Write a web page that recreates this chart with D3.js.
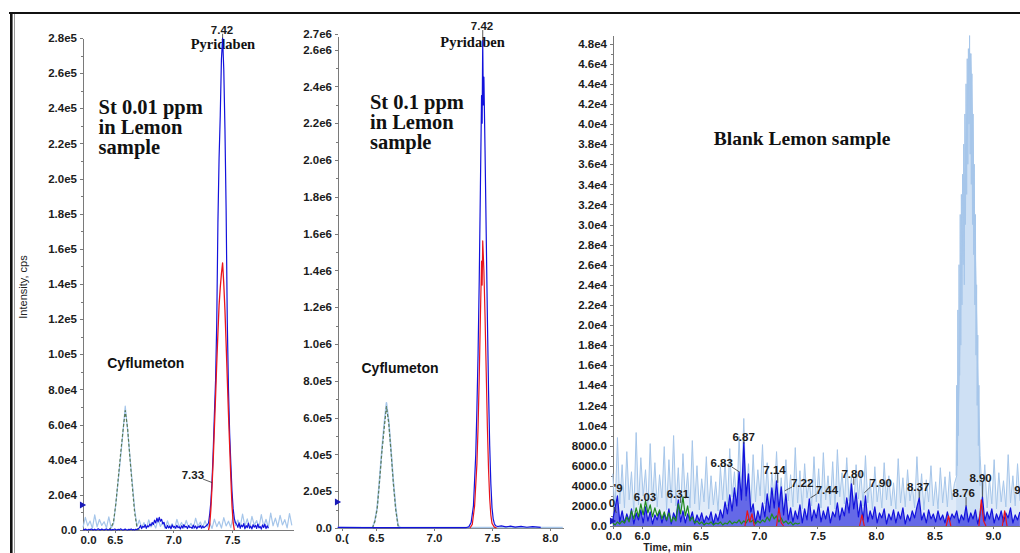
<!DOCTYPE html>
<html>
<head>
<meta charset="utf-8">
<script src="https://cdn.jsdelivr.net/npm/d3@7"></script>
<style>
  body { margin: 0; background: #fff; }
  svg { display: block; }
  .axis path, .axis line, .minor path, .minor line { stroke: #7a7a7a; shape-rendering: crispEdges; }
  .axis text { font-family: "Liberation Sans", Arial, sans-serif; font-weight: bold; font-size: 11.5px; fill: #1c1c1c; }
  .peak { font-family: "Liberation Sans", Arial, sans-serif; font-weight: bold; font-size: 11.5px; fill: #1c1c1c; }
  .name { font-family: "Liberation Sans", Arial, sans-serif; font-weight: bold; font-size: 13.5px; fill: #111; }
  .serif { font-family: "Liberation Serif", "Times New Roman", serif; font-weight: bold; fill: #111; }
  .trace { fill: none; stroke-linejoin: round; }
</style>
</head>
<body>
<svg class="chart"></svg>
<script>
// values (time in min, intensity in cps)

// ---- panel 1 : St 0.01 ppm ----
var p1YTicks = [0, 20000, 40000, 60000, 80000, 100000, 120000, 140000, 160000, 180000, 200000, 220000, 240000, 260000, 280000];
var p1XTicks = [6.273, 6.5, 7.0, 7.5];
var p1XLabels = ["0.0", "6.5", "7.0", "7.5"];
// cyflumeton quantifier (light blue), sampled every 0.02 min from 6.23
var p1LightT0 = 6.23;
var p1Light = [1500,7200,2400,5100,900,8600,1800,6000,2600,4700,
  1200,7500,1200,3500,15000,28000,41000,55000,70500,57000,
  42000,27000,12000,2000,5600,1300,4200,800,5800,1700,
  3900,1100,6400,2000,4500,900,5200,1400,3600,700,
  6100,1800,4300,1000,5500,1500,3800,800,6700,2100,
  4600,1200,5300,1700,4000,900,6200,1900,4800,1100,
  7000,2300,5000,1400,8200,2500,5700,1600,9100,2200,
  6300,1000,7800,2700,5400,1500,8800,2000,6100,1300,
  9600,2400,6800,1800,8300,2900,5900,1200,9400,2600];
// cyflumeton qualifier (grey green, dashed), every 0.02 min from 6.45
var p1GreenT0 = 6.45;
var p1Green = [0,1500,4500,15000,29000,43000,56000,68000,58000,41000,25000,10000,1500,0];
// pyridaben quantifier (dark blue), every 0.01 min from 6.23
var p1BlueT0 = 6.23;
var p1Blue = [300,100,500,200,0,400,150,600,200,100,450,0,300,700,200,100,500,250,0,350,
  600,100,200,450,0,300,150,550,200,0,400,100,650,300,0,200,500,150,0,350,
  200,600,100,300,0,450,200,700,
  1200,2600,800,2100,1500,3000,1000,2400,1800,3400,
  2500,4300,3200,5600,4000,6800,4600,7200,5000,6100,3500,4400,
  1800,900,2600,1200,2200,700,2900,1500,2000,1000,2700,1300,1900,600,2400,1100,3000,1600,2100,800,
  2500,1400,1700,900,2800,1200,2300,700,2000,1500,2600,1000,2200,1300,1800,2400,3000,
  4000,9000,16000,28000,45000,66000,85000,118000,175000,212000,236000,268000,280000,262000,228000,182000,118000,80000,55000,38000,22000,12000,6500,4000,
  3200,1500,4100,900,2800,1800,3600,700,2500,1300,3900,1100,2200,600,3000,1600,2700,900,3400,1200,2000,500,2900,1400,3300,800,2400,1000];
// pyridaben qualifier (red), every 0.01 min from 7.30
var p1RedT0 = 7.30;
var p1Red = [0,3000,12000,25000,40000,58000,76000,95000,112000,128000,138000,146000,152000,140000,125000,106000,86000,66000,48000,30000,14000,4000,0];
var p1PeakText = ["7.42", "7.33"];
var p1PeakLabelT = [7.415, 7.167];
var p1PeakLabelV = [284700, 31250];
var p1PeakApexT = [7.42, 7.33];
var p1PeakApexV = [280000, 27000];
var p1Marker = 14200;

// ---- panel 2 : St 0.1 ppm ----
var p2YTicks = [0, 200000, 400000, 600000, 800000, 1000000, 1200000, 1400000, 1600000, 1800000, 2000000, 2200000, 2400000, 2600000, 2685000];
var p2XTicks = [6.203, 6.5, 7.0, 7.5, 8.0];
var p2XLabels = ["0.(", "6.5", "7.0", "7.5", "8.0"];
var p2LightT = [6.17,6.40,6.47,6.49,6.51,6.53,6.55,6.57,6.59,6.61,6.63,6.65,6.67,6.69,6.71,6.90,7.40,8.11];
var p2Light = [2500,2500,3000,40000,110000,260000,420000,560000,680000,580000,420000,250000,110000,15000,2500,2500,2500,2500];
var p2GreenT = [6.47,6.49,6.51,6.53,6.55,6.57,6.59,6.61,6.63,6.65,6.67,6.69,6.71];
var p2Green = [0,35000,105000,250000,410000,540000,660000,570000,410000,240000,100000,12000,0];
var p2BlueT = [6.17,6.40,6.70,7.00,7.28,7.30,7.32,7.34,7.36,7.37,7.38,7.39,7.40,7.41,7.415,7.42,7.425,7.43,7.44,7.45,
  7.46,7.47,7.48,7.49,7.50,7.51,7.52,7.53,7.55,7.58,7.62,7.66,7.70,7.75,7.80,7.85,7.92];
var p2Blue = [3000,2000,2500,2000,2500,6000,30000,120000,400000,650000,950000,1350000,1850000,2350000,2200000,2650000,2300000,2450000,2050000,1600000,
  1150000,750000,450000,240000,110000,50000,25000,12000,8000,12000,6000,10000,5000,9000,4000,7000,3000];
var p2RedT = [7.31,7.33,7.35,7.37,7.38,7.39,7.40,7.41,7.415,7.42,7.43,7.44,7.45,7.46,7.47,7.48,7.49,7.50,7.52,7.54];
var p2Red = [0,20000,120000,350000,550000,820000,1150000,1450000,1320000,1560000,1400000,1150000,850000,550000,320000,160000,70000,25000,5000,0];
var p2PeakText = ["7.42"];
var p2PeakLabelT = [7.414];
var p2PeakLabelV = [2728000];
var p2PeakApexT = [7.42];
var p2PeakApexV = [2650000];
var p2Marker = 141000;

// ---- panel 3 : blank lemon ----
var p3YTicks = [0,2000,4000,6000,8000,10000,12000,14000,16000,18000,20000,22000,24000,26000,28000,30000,32000,34000,36000,38000,40000,42000,44000,46000,48000];
var p3XTicks = [5.755, 6.0, 6.5, 7.0, 7.5, 8.0, 8.5, 9.0];
var p3XLabels = ["0.0", "6.0", "6.5", "7.0", "7.5", "8.0", "8.5", "9.0"];
// every 0.02 min from 5.75
var p3T0 = 5.75;
var p3Light = [5200,1500,8800,2200,6100,1800,7400,2600,5400,1400,
  9300,2100,6800,3000,5600,1700,8200,2400,6300,1900,
  5100,2800,7900,1600,6600,2300,9000,2000,5800,1500,
  7200,2700,5300,1800,8500,2200,6000,1600,4700,2400,
  6900,1700,5000,2100,4400,1500,5900,2600,6500,2000,
  7700,2900,5400,2300,8900,3100,10700,2500,6200,1800,
  7100,2400,5600,3000,8100,2200,6300,1900,5200,2700,
  7400,2100,4800,1600,6600,2500,5100,1900,7800,2300,
  5500,1700,6200,2800,4600,2000,6900,2400,5700,1800,
  7300,2600,5000,2100,6400,1700,7600,2900,5300,2200,
  6800,2500,4900,1900,6100,2700,5400,2000,7000,2300,
  4700,1600,5900,2400,4400,1800,6300,2600,5000,2000,
  4300,1700,6700,2300,4800,1900,5600,2500,4100,1800,
  6900,2200,5200,1600,4600,2400,6000,2000,4400,1700,
  5800,2300,4900,1900,5400,2600,4200,5000,14000,26000,
  31000,38000,45000,47000,38000,27000,15000,7000,2500,6100,
  1800,4700,2200,6600,1700,5300,2400,4500,1900,7100,
  2300,5000,2000,6200,2500];
// the 8.8 min interference, every 0.005 min from 8.685
var p3PeakT0 = 8.685;
var p3Peak = [5000,14000,6000,21500,9000,26000,15000,31000,18000,33000,22000,35000,26000,38000,24000,41000,30000,44000,33000,46500,
  36000,47500,40000,48800,37000,47000,34000,45000,30000,41000,27000,36000,22000,31000,17000,24000,12000,19000,8000,14000,5000,4000];
var p3Blue = [600,1800,3000,400,1500,300,1200,500,1700,200,
  1300,600,1600,300,1900,500,1400,200,1100,600,
  1500,300,1200,500,1700,200,1300,700,2600,400,
  1500,300,1200,600,1400,200,1100,500,1300,300,
  1000,600,1400,200,1200,500,1600,800,2400,1200,
  3100,1500,3800,2000,5400,2600,8300,3000,5200,1400,
  2200,300,1500,600,2300,900,3200,1400,3800,1800,
  4500,1600,3900,1100,3200,600,1800,400,1500,700,
  2100,300,1700,600,2700,500,1600,800,2200,400,
  1500,700,1900,300,1400,900,2300,600,1800,1000,
  2800,1300,4200,1700,3300,900,2500,600,3000,400,
  1500,700,1900,300,1300,800,1700,200,1200,600,
  1600,300,1400,700,1800,200,1100,500,1500,800,
  1900,2800,600,1300,300,1600,700,1200,400,1500,
  600,1100,300,1400,500,1200,800,1500,300,1100,
  600,2000,400,1300,700,1600,200,1200,2900,500,
  1400,700,1700,300,1200,600,1500,400,1300,800,
  1800,300,1100,600,1400];
var p3Green = [300,100,400,200,500,300,900,400,1500,700,
  1800,900,2200,1100,2500,1300,2100,900,1800,1000,
  1600,700,1400,600,1300,400,900,500,2200,1200,
  2900,1000,2000,500,900,300,500,200,400,100,
  300,200,400,100,300,200,400,100,300,200,
  500,200,400,300,600,200,500,300,700,400,
  600,200,500,300,600,400,900,500,1200,700,
  1000,400,800,300,500,200,400,100,300,200,
  300];
var p3RedT = [6.88,6.90,6.92,6.94,6.96,6.97,7.15,7.17,7.19,7.21,7.22,7.86,7.88,7.90,7.91,8.60,8.62,8.64,8.65,8.88,8.90,8.92,8.94,8.95,9.08,9.10,9.12];
var p3Red = [0,1500,400,1200,0,null,0,1800,300,0,null,0,1100,0,null,0,1000,0,null,0,2600,500,0,null,0,1500,0];
var p3PeakText = ["'9","0","6.03","6.31","6.83","6.87","7.14","7.22","7.44","7.80","7.90","8.37","8.76","8.90","9"];
var p3PeakLabelT = [5.796,5.744,6.026,6.307,6.681,6.869,7.133,7.369,7.58,7.80,8.04,8.36,8.75,8.894,9.21];
var p3PeakLabelV = [3780,2290,2890,3180,6270,8860,5570,4280,3580,5170,4280,3880,3280,4780,3580];
var p3PeakApexT = [null,5.78,null,6.33,6.83,6.87,7.16,7.22,7.44,7.81,7.90,8.37,8.77,8.91,null];
var p3PeakApexV = [null,1300,null,2300,5400,8200,4300,3500,2800,4100,3300,2800,2000,2900,null];
var p3Marker = 500;

var width = 1020;
var height = 553;
var svg = d3.select(".chart").attr("width", width).attr("height", height);

var cLight = "#a6c6ea", cBlue = "#1212dc", cRed = "#e8141c", cGreen = "#1f8a1f", cGreenDash = "#587a58";

function fmtY(v) {
  if (v === 0) return "0.0";
  if (v < 1e4) return v.toFixed(1);
  return v.toExponential(1).replace("+", "");
}
function grid(t0, dt, vals) {
  return vals.map(function(v, i) { return {t: t0 + dt * i, v: v}; });
}
function pairs(ts, vals) {
  return ts.map(function(t, i) { return {t: t, v: vals[i]}; });
}

function makePanel(o) {
  var x = d3.scaleLinear().domain(o.xDomain).range(o.xRange);
  var y = d3.scaleLinear().domain(o.yDomain).range(o.yRange);
  var g = svg.append("g");
  var majors = o.yTicks;
  var minors = d3.range(o.yMinor, o.yDomain[1], o.yMinor * 2);
  g.append("g").attr("class", "minor")
    .attr("transform", "translate(" + o.xRange[0] + ",0)")
    .call(d3.axisLeft(y).tickValues(minors).tickSize(2).tickSizeOuter(0).tickFormat(""));
  g.append("g").attr("class", "axis")
    .attr("transform", "translate(" + o.xRange[0] + ",0)")
    .call(d3.axisLeft(y).tickValues(majors).tickSize(3).tickSizeOuter(0).tickFormat(fmtY));
  var xa = g.append("g").attr("class", "axis")
    .attr("transform", "translate(0," + o.yRange[0] + ")")
    .call(d3.axisBottom(x).tickValues(o.xTicks).tickSize(3).tickSizeOuter(0)
      .tickFormat(function(d, i) { return o.xLabels[i]; }));
  xa.select(".domain").attr("stroke", "#4a4a4a");
  return {x: x, y: y, g: g, x0: o.xRange[0]};
}

function trace(pn, pts, color, w, dash) {
  var line = d3.line()
    .defined(function(d) { return d.v != null; })
    .x(function(d) { return pn.x(d.t); })
    .y(function(d) { return pn.y(d.v); });
  pn.g.append("path").datum(pts).attr("class", "trace").attr("d", line)
    .attr("stroke", color).attr("stroke-width", w)
    .attr("stroke-dasharray", dash || null);
}

// dense noise looks filled in the instrument plot
function shade(pn, pts, color, op) {
  var area = d3.area()
    .x(function(d) { return pn.x(d.t); })
    .y0(pn.y(0))
    .y1(function(d) { return pn.y(d.v); });
  pn.g.append("path").datum(pts).attr("d", area)
    .attr("fill", color).attr("fill-opacity", op).attr("stroke", "none");
}

function peakLabels(pn, texts, lt, lv, at, av) {
  texts.forEach(function(s, i) {
    var tx = pn.g.append("text").attr("class", "peak")
      .attr("x", pn.x(lt[i])).attr("y", pn.y(lv[i])).attr("dy", "0.35em")
      .attr("text-anchor", "middle").text(s);
    if (at[i] == null) return;
    var b = tx.node().getBBox();
    var ax = pn.x(at[i]), ay = pn.y(av[i]);
    var sx = Math.max(b.x + 1, Math.min(ax, b.x + b.width - 1));
    var sy = Math.max(b.y + 3, Math.min(ay, b.y + b.height - 2));
    pn.g.append("line").attr("x1", sx).attr("y1", sy).attr("x2", ax).attr("y2", ay)
      .attr("stroke", "#333").attr("stroke-width", 0.8);
  });
}

function textBlock(pn, lines, t, v, cls, size, anchor, lh) {
  lines.forEach(function(s, i) {
    pn.g.append("text").attr("class", cls).style("font-size", size + "px")
      .attr("x", pn.x(t)).attr("y", pn.y(v) + i * lh).attr("dy", "0.35em")
      .attr("text-anchor", anchor).text(s);
  });
}

function marker(pn, v) {
  pn.g.append("path").attr("d", d3.symbol().type(d3.symbolTriangle).size(22)())
    .attr("transform", "translate(" + (pn.x0 - 1) + "," + pn.y(v) + ") rotate(90)")
    .attr("fill", "#1a1ab8");
}

// ---- panel 1 ----
var P1 = makePanel({xDomain: [6.23, 8.02], xRange: [83, 293], yDomain: [0, 280000], yRange: [530, 38],
  yTicks: p1YTicks, yMinor: 10000, xTicks: p1XTicks, xLabels: p1XLabels});
textBlock(P1, ["Pyridaben"], 7.423, 276700, "serif", 14.5, "middle", 0);
textBlock(P1, ["Cyflumeton"], 6.765, 94900, "name", 14, "middle", 0);
textBlock(P1, ["St 0.01 ppm", "in Lemon", "sample"], 6.363, 240900, "serif", 20.5, "start", 20);
trace(P1, grid(p1LightT0, 0.02, p1Light), cLight, 1.2);
trace(P1, grid(p1GreenT0, 0.02, p1Green), cGreenDash, 1.2, "3,2");
trace(P1, grid(p1BlueT0, 0.01, p1Blue), cBlue, 1.2);
trace(P1, grid(p1RedT0, 0.01, p1Red), cRed, 1.3);
peakLabels(P1, p1PeakText, p1PeakLabelT, p1PeakLabelV, p1PeakApexT, p1PeakApexV);
marker(P1, p1Marker);

// ---- panel 2 ----
var P2 = makePanel({xDomain: [6.1724, 8.112], xRange: [338, 563], yDomain: [0, 2670000], yRange: [528, 36.7],
  yTicks: p2YTicks, yMinor: 100000, xTicks: p2XTicks, xLabels: p2XLabels});
textBlock(P2, ["Pyridaben"], 7.332, 2641000, "serif", 14.5, "middle", 0);
textBlock(P2, ["Cyflumeton"], 6.707, 869600, "name", 14, "middle", 0);
textBlock(P2, ["St 0.1 ppm", "in Lemon", "sample"], 6.448, 2315000, "serif", 20.5, "start", 20);
trace(P2, pairs(p2LightT, p2Light), cLight, 1.6);
trace(P2, pairs(p2GreenT, p2Green), cGreenDash, 1.2, "3,2");
trace(P2, pairs(p2BlueT, p2Blue), cBlue, 1.2);
trace(P2, pairs(p2RedT, p2Red), cRed, 1.2);
peakLabels(P2, p2PeakText, p2PeakLabelT, p2PeakLabelV, p2PeakApexT, p2PeakApexV);
marker(P2, p2Marker);

// ---- panel 3 ----
var P3 = makePanel({xDomain: [5.752, 9.231], xRange: [613, 1020], yDomain: [0, 48860], yRange: [526, 35],
  yTicks: p3YTicks, yMinor: 1000, xTicks: p3XTicks, xLabels: p3XLabels});
textBlock(P3, ["Blank Lemon sample"], 7.368, 38600, "serif", 19.5, "middle", 0);
var p3LightPts = grid(p3T0, 0.02, p3Light);
var p3PeakPts = grid(p3PeakT0, 0.005, p3Peak);
var p3BluePts = grid(p3T0, 0.02, p3Blue);
shade(P3, p3LightPts, cLight, 0.35);
shade(P3, p3PeakPts, cLight, 0.3);
trace(P3, p3LightPts, cLight, 1);
trace(P3, p3PeakPts, cLight, 1);
shade(P3, p3BluePts, cBlue, 0.6);
trace(P3, p3BluePts, cBlue, 1.2);
trace(P3, grid(p3T0, 0.02, p3Green), cGreen, 1.2);
trace(P3, pairs(p3RedT, p3Red), cRed, 1.2);
peakLabels(P3, p3PeakText, p3PeakLabelT, p3PeakLabelV, p3PeakApexT, p3PeakApexV);
marker(P3, p3Marker);

svg.append("text")
  .attr("transform", "rotate(-90)")
  .attr("x", -287).attr("y", 23).attr("dy", "0.35em")
  .attr("text-anchor", "middle")
  .style("font-family", "'Liberation Sans', Arial, sans-serif").style("font-size", "11px").style("fill", "#222")
  .text("Intensity, cps");

svg.append("text")
  .attr("x", P3.x(6.22)).attr("y", 551)
  .attr("text-anchor", "middle")
  .style("font-family", "'Liberation Sans', Arial, sans-serif").style("font-weight", "bold")
  .style("font-size", "10.5px").style("fill", "#222")
  .text("Time, min");

// frame of the pasted figure
svg.append("line").attr("x1", 9).attr("x2", width).attr("y1", 13).attr("y2", 13)
  .attr("stroke", "#111").attr("stroke-width", 2);
svg.append("line").attr("x1", 11.3).attr("x2", 11.3).attr("y1", 12).attr("y2", height)
  .attr("stroke", "#111").attr("stroke-width", 2.6);
svg.append("line").attr("x1", 14.5).attr("x2", 14.5).attr("y1", 14).attr("y2", height)
  .attr("stroke", "#9a9a9a").attr("stroke-width", 1);
</script>
</body>
</html>
